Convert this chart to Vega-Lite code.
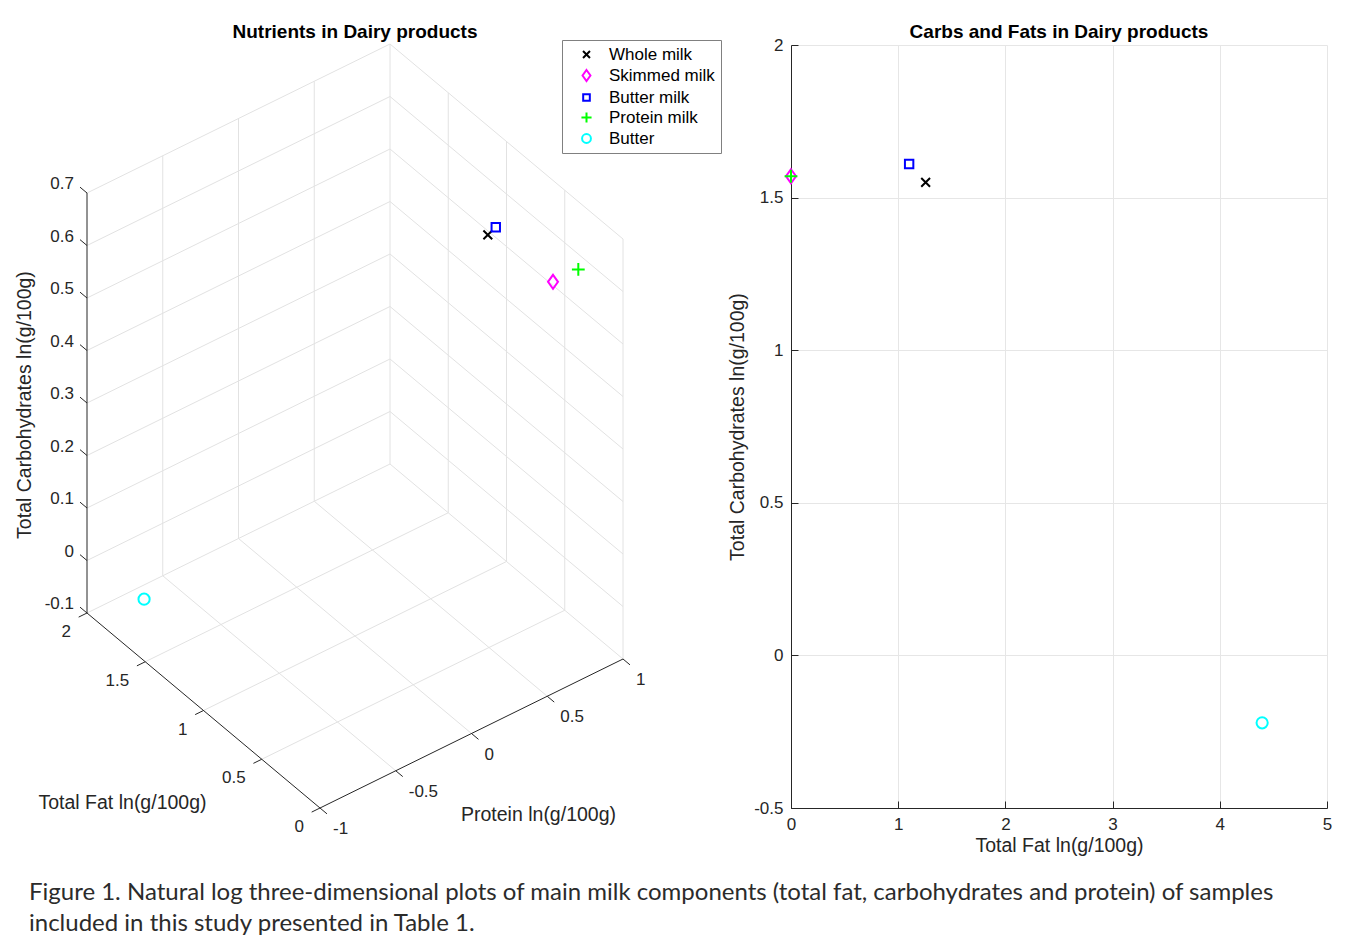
{
  "$schema": "https://vega.github.io/schema/vega-lite/v6.json",
  "width": 536,
  "height": 763,
  "autosize": {"type": "none"},
  "padding": {"left": 791, "top": 45, "right": 20, "bottom": 135},
  "background": "white",
  "config": {
    "view": {"stroke": null},
    "font": "Liberation Sans",
    "text": {"font": "Liberation Sans"},
    "axis": {"labelFont": "Liberation Sans", "titleFont": "Liberation Sans"}
  },
  "title": {
    "text": [
      "Figure 1. Natural log three-dimensional plots of main milk components (total fat, carbohydrates and protein) of samples",
      "included in this study presented in Table 1."
    ],
    "orient": "bottom",
    "anchor": "start",
    "frame": "group",
    "dx": -762,
    "offset": 26,
    "font": "Lato",
    "fontSize": 24,
    "fontWeight": "normal",
    "color": "#2b2b2b",
    "lineHeight": 31,
    "baseline": "top"
  },
  "datasets": {
    "products": [
      {"product": "Whole milk", "fat_ln": 1.256, "carb_ln": 1.55, "fat_log10": 0.544, "protein_log10": 0.526, "carb_log10": 0.674},
      {"product": "Skimmed milk", "fat_ln": 0.0, "carb_ln": 1.57, "fat_log10": 0.0, "protein_log10": 0.538, "carb_log10": 0.684},
      {"product": "Butter milk", "fat_ln": 1.102, "carb_ln": 1.61, "fat_log10": 0.477, "protein_log10": 0.527, "carb_log10": 0.701},
      {"product": "Protein milk", "fat_ln": 0.0, "carb_ln": 1.57, "fat_log10": 0.0, "protein_log10": 0.705, "carb_log10": 0.684},
      {"product": "Butter", "fat_ln": 4.395, "carb_ln": -0.221, "fat_log10": 1.908, "protein_log10": -0.694, "carb_log10": -0.1}
    ],
    "lines3d": [
      {"part": "grid", "f1": 0.5, "p1": -1, "c1": -0.1, "f2": 0.5, "p2": 1, "c2": -0.1},
      {"part": "grid", "f1": 1, "p1": -1, "c1": -0.1, "f2": 1, "p2": 1, "c2": -0.1},
      {"part": "grid", "f1": 1.5, "p1": -1, "c1": -0.1, "f2": 1.5, "p2": 1, "c2": -0.1},
      {"part": "grid", "f1": 2, "p1": -1, "c1": -0.1, "f2": 2, "p2": 1, "c2": -0.1},
      {"part": "grid", "f1": 0, "p1": -0.5, "c1": -0.1, "f2": 2, "p2": -0.5, "c2": -0.1},
      {"part": "grid", "f1": 0, "p1": 0, "c1": -0.1, "f2": 2, "p2": 0, "c2": -0.1},
      {"part": "grid", "f1": 0, "p1": 0.5, "c1": -0.1, "f2": 2, "p2": 0.5, "c2": -0.1},
      {"part": "grid", "f1": 0, "p1": 1, "c1": -0.1, "f2": 2, "p2": 1, "c2": -0.1},
      {"part": "grid", "f1": 2, "p1": -0.5, "c1": -0.1, "f2": 2, "p2": -0.5, "c2": 0.7},
      {"part": "grid", "f1": 2, "p1": 0, "c1": -0.1, "f2": 2, "p2": 0, "c2": 0.7},
      {"part": "grid", "f1": 2, "p1": 0.5, "c1": -0.1, "f2": 2, "p2": 0.5, "c2": 0.7},
      {"part": "grid", "f1": 2, "p1": 1, "c1": -0.1, "f2": 2, "p2": 1, "c2": 0.7},
      {"part": "grid", "f1": 2, "p1": -1, "c1": 0, "f2": 2, "p2": 1, "c2": 0},
      {"part": "grid", "f1": 2, "p1": -1, "c1": 0.1, "f2": 2, "p2": 1, "c2": 0.1},
      {"part": "grid", "f1": 2, "p1": -1, "c1": 0.2, "f2": 2, "p2": 1, "c2": 0.2},
      {"part": "grid", "f1": 2, "p1": -1, "c1": 0.3, "f2": 2, "p2": 1, "c2": 0.3},
      {"part": "grid", "f1": 2, "p1": -1, "c1": 0.4, "f2": 2, "p2": 1, "c2": 0.4},
      {"part": "grid", "f1": 2, "p1": -1, "c1": 0.5, "f2": 2, "p2": 1, "c2": 0.5},
      {"part": "grid", "f1": 2, "p1": -1, "c1": 0.6, "f2": 2, "p2": 1, "c2": 0.6},
      {"part": "grid", "f1": 2, "p1": -1, "c1": 0.7, "f2": 2, "p2": 1, "c2": 0.7},
      {"part": "grid", "f1": 0, "p1": 1, "c1": -0.1, "f2": 0, "p2": 1, "c2": 0.7},
      {"part": "grid", "f1": 0.5, "p1": 1, "c1": -0.1, "f2": 0.5, "p2": 1, "c2": 0.7},
      {"part": "grid", "f1": 1, "p1": 1, "c1": -0.1, "f2": 1, "p2": 1, "c2": 0.7},
      {"part": "grid", "f1": 1.5, "p1": 1, "c1": -0.1, "f2": 1.5, "p2": 1, "c2": 0.7},
      {"part": "grid", "f1": 0, "p1": 1, "c1": 0, "f2": 2, "p2": 1, "c2": 0},
      {"part": "grid", "f1": 0, "p1": 1, "c1": 0.1, "f2": 2, "p2": 1, "c2": 0.1},
      {"part": "grid", "f1": 0, "p1": 1, "c1": 0.2, "f2": 2, "p2": 1, "c2": 0.2},
      {"part": "grid", "f1": 0, "p1": 1, "c1": 0.3, "f2": 2, "p2": 1, "c2": 0.3},
      {"part": "grid", "f1": 0, "p1": 1, "c1": 0.4, "f2": 2, "p2": 1, "c2": 0.4},
      {"part": "grid", "f1": 0, "p1": 1, "c1": 0.5, "f2": 2, "p2": 1, "c2": 0.5},
      {"part": "grid", "f1": 0, "p1": 1, "c1": 0.6, "f2": 2, "p2": 1, "c2": 0.6},
      {"part": "grid", "f1": 0, "p1": 1, "c1": 0.7, "f2": 2, "p2": 1, "c2": 0.7},
      {"part": "axis", "f1": 0, "p1": -1, "c1": -0.1, "f2": 2, "p2": -1, "c2": -0.1},
      {"part": "axis", "f1": 0, "p1": -1, "c1": -0.1, "f2": 0, "p2": 1, "c2": -0.1},
      {"part": "axis", "f1": 2, "p1": -1, "c1": -0.1, "f2": 2, "p2": -1, "c2": 0.7}
    ],
    "ticks3d": [
      {"axis": "fat", "v": 0, "label": "0"},
      {"axis": "fat", "v": 0.5, "label": "0.5"},
      {"axis": "fat", "v": 1, "label": "1"},
      {"axis": "fat", "v": 1.5, "label": "1.5"},
      {"axis": "fat", "v": 2, "label": "2"},
      {"axis": "protein", "v": -1, "label": "-1"},
      {"axis": "protein", "v": -0.5, "label": "-0.5"},
      {"axis": "protein", "v": 0, "label": "0"},
      {"axis": "protein", "v": 0.5, "label": "0.5"},
      {"axis": "protein", "v": 1, "label": "1"},
      {"axis": "carbs", "v": -0.1, "label": "-0.1"},
      {"axis": "carbs", "v": 0, "label": "0"},
      {"axis": "carbs", "v": 0.1, "label": "0.1"},
      {"axis": "carbs", "v": 0.2, "label": "0.2"},
      {"axis": "carbs", "v": 0.3, "label": "0.3"},
      {"axis": "carbs", "v": 0.4, "label": "0.4"},
      {"axis": "carbs", "v": 0.5, "label": "0.5"},
      {"axis": "carbs", "v": 0.6, "label": "0.6"},
      {"axis": "carbs", "v": 0.7, "label": "0.7"}
    ]
  },
  "layer": [
    {
      "encoding": {
        "x": {"field": "sx", "type": "quantitative", "scale": {"domain": [471, 1007], "nice": false, "zero": false}, "axis": null},
        "y": {"field": "sy", "type": "quantitative", "scale": {"domain": [0, 763], "nice": false, "zero": false}, "axis": null}
      },
      "layer": [
        {
          "data": {"name": "lines3d"},
          "transform": [
            {"calculate": "151.5 * (datum.p1 + 1) - 116.5 * datum.f1", "as": "sx"},
            {"calculate": "97.5 * datum.f1 + 74.5 * (datum.p1 + 1) + 525 * (datum.c1 + 0.1)", "as": "sy"},
            {"calculate": "151.5 * (datum.p2 + 1) - 116.5 * datum.f2", "as": "sx2"},
            {"calculate": "97.5 * datum.f2 + 74.5 * (datum.p2 + 1) + 525 * (datum.c2 + 0.1)", "as": "sy2"}
          ],
          "layer": [
            {
              "transform": [{"filter": "datum.part === 'grid'"}],
              "mark": {"type": "rule", "color": "#e2e2e2", "strokeWidth": 1},
              "encoding": {"x2": {"field": "sx2"}, "y2": {"field": "sy2"}}
            },
            {
              "transform": [{"filter": "datum.part === 'axis'"}],
              "mark": {"type": "rule", "color": "#262626", "strokeWidth": 1},
              "encoding": {"x2": {"field": "sx2"}, "y2": {"field": "sy2"}}
            }
          ]
        },
        {
          "data": {"name": "ticks3d"},
          "transform": [
            {"calculate": "datum.axis === 'fat' ? datum.v : (datum.axis === 'protein' ? 0 : 2)", "as": "f"},
            {"calculate": "datum.axis === 'protein' ? datum.v : -1", "as": "p"},
            {"calculate": "datum.axis === 'carbs' ? datum.v : -0.1", "as": "c"},
            {"calculate": "datum.f + (datum.axis === 'protein' ? -0.06 : (datum.axis === 'carbs' ? 0.06 : 0))", "as": "f2"},
            {"calculate": "datum.p + (datum.axis === 'fat' ? -0.055 : 0)", "as": "p2"},
            {"calculate": "151.5 * (datum.p + 1) - 116.5 * datum.f", "as": "sx"},
            {"calculate": "97.5 * datum.f + 74.5 * (datum.p + 1) + 525 * (datum.c + 0.1)", "as": "sy"},
            {"calculate": "151.5 * (datum.p2 + 1) - 116.5 * datum.f2", "as": "sx2"},
            {"calculate": "97.5 * datum.f2 + 74.5 * (datum.p2 + 1) + 525 * (datum.c + 0.1)", "as": "sy2"}
          ],
          "layer": [
            {
              "mark": {"type": "rule", "color": "#262626", "strokeWidth": 1},
              "encoding": {"x2": {"field": "sx2"}, "y2": {"field": "sy2"}}
            },
            {
              "transform": [{"filter": "datum.axis === 'carbs'"}],
              "mark": {"type": "text", "align": "right", "baseline": "middle", "dx": -13, "dy": -9, "fontSize": 17, "color": "#262626"},
              "encoding": {"text": {"field": "label"}}
            },
            {
              "transform": [{"filter": "datum.axis === 'fat'"}],
              "mark": {"type": "text", "align": "right", "baseline": "middle", "dx": -16, "dy": 19, "fontSize": 17, "color": "#262626"},
              "encoding": {"text": {"field": "label"}}
            },
            {
              "transform": [{"filter": "datum.axis === 'protein'"}],
              "mark": {"type": "text", "align": "left", "baseline": "middle", "dx": 13, "dy": 21, "fontSize": 17, "color": "#262626"},
              "encoding": {"text": {"field": "label"}}
            },
            {
              "transform": [{"filter": "datum.axis === 'fat' && datum.v === 1"}],
              "mark": {"type": "text", "align": "center", "baseline": "middle", "dx": -81, "dy": 92, "fontSize": 19.5, "color": "#262626"},
              "encoding": {"text": {"value": "Total Fat ln(g/100g)"}}
            },
            {
              "transform": [{"filter": "datum.axis === 'protein' && datum.v === 0"}],
              "mark": {"type": "text", "align": "center", "baseline": "middle", "dx": 67, "dy": 81, "fontSize": 19.5, "color": "#262626"},
              "encoding": {"text": {"value": "Protein ln(g/100g)"}}
            },
            {
              "transform": [{"filter": "datum.axis === 'carbs' && datum.v === 0.3"}],
              "mark": {"type": "text", "align": "center", "baseline": "middle", "angle": 270, "dx": -2, "dy": -62, "fontSize": 19.5, "color": "#262626"},
              "encoding": {"text": {"value": "Total Carbohydrates ln(g/100g)"}}
            },
            {
              "transform": [{"filter": "datum.axis === 'carbs' && datum.v === 0.7"}],
              "mark": {"type": "text", "align": "center", "baseline": "middle", "dx": 268, "dy": -161, "fontSize": 19, "fontWeight": "bold", "color": "#000000"},
              "encoding": {"text": {"value": "Nutrients in Dairy products"}}
            }
          ]
        },
        {
          "data": {"name": "products"},
          "transform": [
            {"calculate": "151.5 * (datum.protein_log10 + 1) - 116.5 * datum.fat_log10", "as": "sx"},
            {"calculate": "97.5 * datum.fat_log10 + 74.5 * (datum.protein_log10 + 1) + 525 * (datum.carb_log10 + 0.1)", "as": "sy"}
          ],
          "mark": {"type": "point", "filled": false, "strokeWidth": 2, "size": 64, "opacity": 1},
          "encoding": {
            "color": {
              "field": "product", "type": "nominal",
              "scale": {"domain": ["Whole milk", "Skimmed milk", "Butter milk", "Protein milk", "Butter"], "range": ["#000000", "#ff00ff", "#0000ff", "#00ff00", "#00ffff"]},
              "legend": {"title": null, "orient": "none", "legendX": -229, "legendY": -5, "strokeColor": "#808080", "fillColor": "white", "padding": 6, "labelFontSize": 17, "labelFont": "Liberation Sans", "labelColor": "#000000", "symbolSize": 40, "symbolStrokeWidth": 2, "symbolOffset": 10, "labelOffset": 14, "rowPadding": 2}
            },
            "shape": {
              "field": "product", "type": "nominal",
              "scale": {"domain": ["Whole milk", "Skimmed milk", "Butter milk", "Protein milk", "Butter"], "range": ["M-1.1,-1.1L1.1,1.1M1.1,-1.1L-1.1,1.1", "M0,-1.75L1.25,0L0,1.75L-1.25,0Z", "M-1.05,-1.05L1.05,-1.05L1.05,1.05L-1.05,1.05Z", "M-1.6,0L1.6,0M0,-1.6L0,1.6", "M1.4,0A1.4,1.4,0,1,1,-1.4,0A1.4,1.4,0,1,1,1.4,0Z"]},
              "legend": {"title": null, "orient": "none", "legendX": -229, "legendY": -5, "strokeColor": "#808080", "fillColor": "white", "padding": 6, "labelFontSize": 17, "labelFont": "Liberation Sans", "labelColor": "#000000", "symbolSize": 40, "symbolStrokeWidth": 2, "symbolOffset": 10, "labelOffset": 14, "rowPadding": 2}
            }
          }
        }
      ]
    },
    {
      "layer": [
        {
          "data": {"name": "products"},
          "mark": {"type": "point", "filled": false, "strokeWidth": 2, "size": 64, "opacity": 1},
          "encoding": {
            "x": {
              "field": "fat_ln", "type": "quantitative",
              "scale": {"domain": [0, 5], "nice": false, "zero": false},
              "axis": {"values": [0, 1, 2, 3, 4, 5], "format": "~g", "title": "Total Fat ln(g/100g)", "grid": true, "gridColor": "#e6e6e6", "domainColor": "#262626", "tickColor": "#262626", "tickSize": -7, "labelFontSize": 17, "labelColor": "#262626", "labelPadding": 15, "labelFlush": false, "labelOverlap": false, "labelExpr": "replace(datum.label, '\u2212', '-')", "titleFontSize": 19.5, "titleFontWeight": "normal", "titleColor": "#262626", "titlePadding": 4}
            },
            "y": {
              "field": "carb_ln", "type": "quantitative",
              "scale": {"domain": [-0.5, 2], "nice": false, "zero": false},
              "axis": {"values": [-0.5, 0, 0.5, 1, 1.5, 2], "format": "~g", "title": "Total Carbohydrates ln(g/100g)", "grid": true, "gridColor": "#e6e6e6", "domainColor": "#262626", "tickColor": "#262626", "tickSize": -7, "labelFontSize": 17, "labelColor": "#262626", "labelPadding": 15, "labelFlush": false, "labelOverlap": false, "labelExpr": "replace(datum.label, '\u2212', '-')", "titleFontSize": 19.5, "titleFontWeight": "normal", "titleColor": "#262626", "titlePadding": 6}
            },
            "color": {
              "field": "product", "type": "nominal",
              "scale": {"domain": ["Whole milk", "Skimmed milk", "Butter milk", "Protein milk", "Butter"], "range": ["#000000", "#ff00ff", "#0000ff", "#00ff00", "#00ffff"]},
              "legend": {"title": null, "orient": "none", "legendX": -229, "legendY": -5, "strokeColor": "#808080", "fillColor": "white", "padding": 6, "labelFontSize": 17, "labelFont": "Liberation Sans", "labelColor": "#000000", "symbolSize": 40, "symbolStrokeWidth": 2, "symbolOffset": 10, "labelOffset": 14, "rowPadding": 2}
            },
            "shape": {
              "field": "product", "type": "nominal",
              "scale": {"domain": ["Whole milk", "Skimmed milk", "Butter milk", "Protein milk", "Butter"], "range": ["M-1.1,-1.1L1.1,1.1M1.1,-1.1L-1.1,1.1", "M0,-1.75L1.25,0L0,1.75L-1.25,0Z", "M-1.05,-1.05L1.05,-1.05L1.05,1.05L-1.05,1.05Z", "M-1.6,0L1.6,0M0,-1.6L0,1.6", "M1.4,0A1.4,1.4,0,1,1,-1.4,0A1.4,1.4,0,1,1,1.4,0Z"]},
              "legend": {"title": null, "orient": "none", "legendX": -229, "legendY": -5, "strokeColor": "#808080", "fillColor": "white", "padding": 6, "labelFontSize": 17, "labelFont": "Liberation Sans", "labelColor": "#000000", "symbolSize": 40, "symbolStrokeWidth": 2, "symbolOffset": 10, "labelOffset": 14, "rowPadding": 2}
            }
          }
        },
        {
          "data": {"values": [{"label": "Carbs and Fats in Dairy products"}]},
          "mark": {"type": "text", "align": "center", "baseline": "middle", "dy": -13, "fontSize": 19, "fontWeight": "bold", "color": "#000000"},
          "encoding": {
            "x": {"datum": 2.5, "type": "quantitative"},
            "y": {"datum": 2, "type": "quantitative"},
            "text": {"field": "label"}
          }
        }
      ]
    }
  ],
  "resolve": {
    "scale": {"x": "independent", "y": "independent"},
    "axis": {"x": "independent", "y": "independent"}
  }
}
